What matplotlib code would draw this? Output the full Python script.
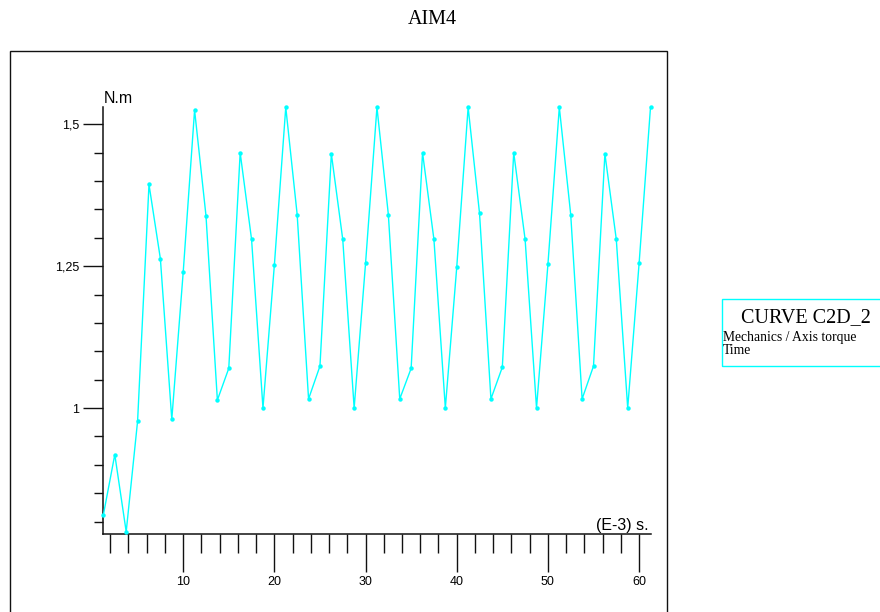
import matplotlib
matplotlib.use("Agg")
import matplotlib.pyplot as plt
from matplotlib.ticker import FixedLocator, FuncFormatter
from matplotlib.patches import Rectangle

# Sample times (ms) and axis torque (N.m)
time_ms = [1.25, 2.5, 3.75, 5.0, 6.25, 7.5, 8.75, 10.0, 11.25, 12.5,
           13.75, 15.0, 16.25, 17.5, 18.75, 20.0, 21.25, 22.5, 23.75, 25.0,
           26.25, 27.5, 28.75, 30.0, 31.25, 32.5, 33.75, 35.0, 36.25, 37.5,
           38.75, 40.0, 41.25, 42.5, 43.75, 45.0, 46.25, 47.5, 48.75, 50.0,
           51.25, 52.5, 53.75, 55.0, 56.25, 57.5, 58.75, 60.0, 61.25]
torque = [0.812, 0.918, 0.782, 0.977, 1.394, 1.263, 0.980, 1.239, 1.525, 1.339,
          1.014, 1.070, 1.450, 1.297, 1.000, 1.252, 1.530, 1.341, 1.016, 1.074,
          1.448, 1.297, 1.000, 1.255, 1.530, 1.341, 1.016, 1.070, 1.450, 1.297,
          1.000, 1.248, 1.530, 1.343, 1.016, 1.072, 1.450, 1.297, 1.000, 1.253,
          1.530, 1.341, 1.016, 1.074, 1.448, 1.297, 1.000, 1.255, 1.530]

x_major = [10, 20, 30, 40, 50, 60]
x_minor = [2, 4, 6, 8, 12, 14, 16, 18, 22, 24, 26, 28, 32, 34, 36, 38,
           42, 44, 46, 48, 52, 54, 56, 58]
y_major = [1.0, 1.25, 1.5]
y_minor = [0.8, 0.85, 0.9, 0.95, 1.05, 1.1, 1.15, 1.2, 1.3, 1.35, 1.4, 1.45]

title = "AIM4"
legend_title = "CURVE C2D_2"
legend_lines = ["Mechanics / Axis torque", "Time"]
y_unit = "N.m"
x_unit = "(E-3) s."

W, H = 880, 612
fig = plt.figure(figsize=(W / 100, H / 100), dpi=100)


def fx(px):
    return px / W


def fy(py):
    return 1 - py / H


sans = ["Liberation Sans", "DejaVu Sans"]
serif = ["Liberation Serif", "DejaVu Serif"]

ax = fig.add_axes([fx(103.4), fy(534), fx(650.5) - fx(103.4), fy(107) - fy(534)])
ax.plot(time_ms, torque, color="#00FFFF", lw=1.0, marker="o", ms=3.2,
        markeredgewidth=0, clip_on=False, zorder=3)

ax.set_xlim(1.25, 61.25)
ax.set_ylim(0.778, 1.5305)

for s in ("top", "right"):
    ax.spines[s].set_visible(False)
for s in ("left", "bottom"):
    ax.spines[s].set_linewidth(1.1)
    ax.spines[s].set_color("#111111")

ax.xaxis.set_major_locator(FixedLocator(x_major))
ax.xaxis.set_minor_locator(FixedLocator(x_minor))
ax.yaxis.set_major_locator(FixedLocator(y_major))
ax.yaxis.set_minor_locator(FixedLocator(y_minor))
ax.yaxis.set_major_formatter(FuncFormatter(lambda v, p: f"{v:g}".replace(".", ",")))

ax.tick_params(axis="x", which="major", direction="out", length=27.5, width=1.0,
               pad=3, labelsize=9, color="#111111")
ax.tick_params(axis="x", which="minor", direction="out", length=13.7, width=1.0,
               color="#111111")
ax.tick_params(axis="y", which="major", direction="out", length=14.4, width=1.0,
               pad=3, labelsize=9, color="#111111")
ax.tick_params(axis="y", which="minor", direction="out", length=6.5, width=1.0,
               color="#111111")
for lab in ax.get_xticklabels() + ax.get_yticklabels():
    lab.set_fontfamily(sans)

# unit captions on the axes
fig.text(fx(104), fy(103), y_unit, family=sans, fontsize=11.5, ha="left",
         va="baseline")
fig.text(fx(649), fy(530), x_unit, family=sans, fontsize=11.5, ha="right",
         va="baseline")

# title
fig.text(fx(432), fy(19), title, family=serif, fontsize=14.5, ha="center",
         va="center")

# outer frame around the plot area
fig.patches.append(Rectangle((fx(9.5), fy(640)), fx(667) - fx(9.5), fy(51) - fy(640),
                             transform=fig.transFigure, fill=False,
                             edgecolor="#111111", lw=1.0))

# legend box
fig.patches.append(Rectangle((fx(722), fy(366)), fx(885) - fx(722), fy(299) - fy(366),
                             transform=fig.transFigure, fill=False,
                             edgecolor="#00FFFF", lw=1.0))
fig.text(fx(806), fy(318), legend_title, family=serif, fontsize=14.5, ha="center",
         va="center")
fig.text(fx(723), fy(337), legend_lines[0], family=serif, fontsize=9.8, ha="left",
         va="center")
fig.text(fx(723), fy(351), legend_lines[1], family=serif, fontsize=9.8, ha="left",
         va="center")

fig.savefig("out.png", dpi=100)
